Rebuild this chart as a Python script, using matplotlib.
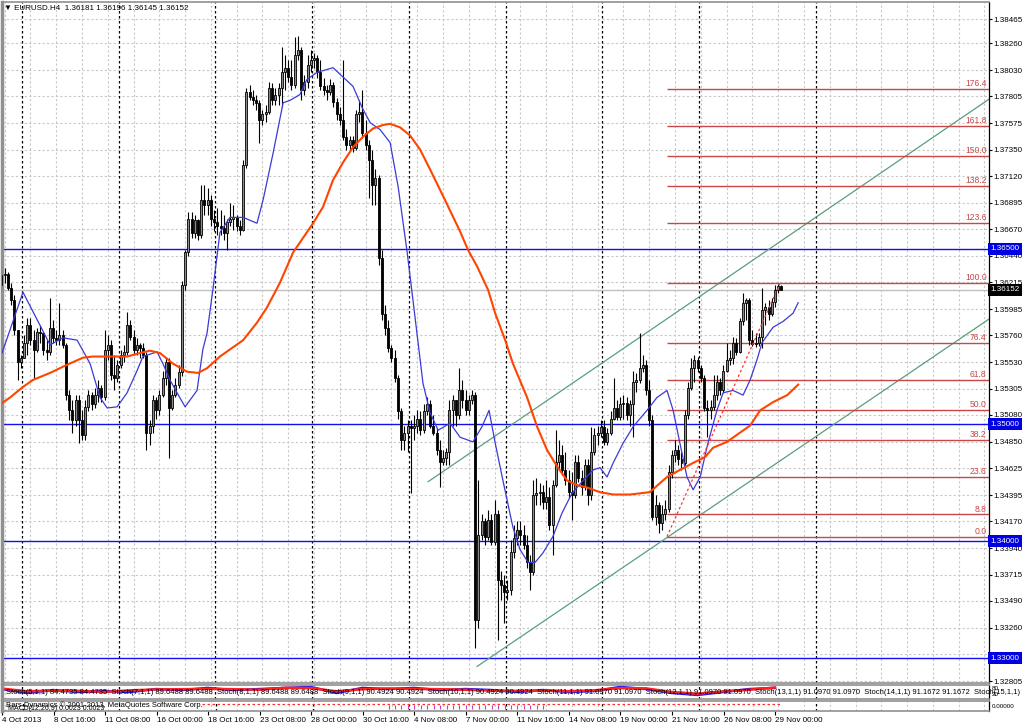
import numpy as np
import matplotlib
matplotlib.use("Agg")
import matplotlib.pyplot as plt

plt.rcParams['font.family'] = ['Liberation Sans', 'DejaVu Sans']

# ---- EURUSD H4, 4 Oct - 29 Nov 2013 ----
title_text = "EURUSD.H4  1.36181 1.36196 1.36145 1.36152"
first_open = 1.3619
closes = [
    1.3628, 1.3629, 1.3617, 1.3606, 1.3581, 1.3553, 1.3557, 1.3570, 1.3585, 1.3572,
    1.3564, 1.3579, 1.3578, 1.3564, 1.3562, 1.3582, 1.3574, 1.3572, 1.3576, 1.3568,
    1.3525, 1.3512, 1.3504, 1.3521, 1.3504, 1.3491, 1.3515, 1.3525, 1.3517, 1.3525,
    1.3531, 1.3523, 1.3564, 1.3568, 1.3542, 1.3540, 1.3551, 1.3559, 1.3562, 1.3585,
    1.3575, 1.3564, 1.3568, 1.3565, 1.3559, 1.3493, 1.3499, 1.3521, 1.3512, 1.3525,
    1.3540, 1.3553, 1.3514, 1.3525, 1.3534, 1.3545, 1.3619, 1.3647, 1.3676, 1.3664,
    1.3675, 1.3662, 1.3692, 1.3688, 1.3692, 1.3676, 1.3673, 1.3670, 1.3668, 1.3664,
    1.3673, 1.3676, 1.3677, 1.3670, 1.3666, 1.3722, 1.3784, 1.3780, 1.3777, 1.3775,
    1.3760, 1.3765, 1.3767, 1.3788, 1.3777, 1.3782, 1.3788, 1.3801, 1.3805, 1.3797,
    1.3790, 1.3816, 1.3820, 1.3786, 1.3793, 1.3807, 1.3812, 1.3813, 1.3801, 1.3789,
    1.3786, 1.3784, 1.3790, 1.3776, 1.3765, 1.3760, 1.3746, 1.3739, 1.3743, 1.3736,
    1.3765, 1.3767, 1.3749, 1.3739, 1.3726, 1.3705, 1.3711, 1.3642, 1.3594, 1.3582,
    1.3565, 1.3557, 1.3540, 1.3511, 1.3487, 1.3493, 1.3499, 1.3497, 1.3499, 1.3505,
    1.3495, 1.3511, 1.3517, 1.3499, 1.3493, 1.3478, 1.3468, 1.3471, 1.3476, 1.3512,
    1.3521, 1.3508, 1.3529, 1.3521, 1.3512, 1.3521, 1.3525, 1.3333, 1.3405, 1.3417,
    1.3404, 1.3418, 1.3399, 1.3423, 1.3367, 1.3363, 1.3357, 1.3358, 1.3391, 1.3403,
    1.3410, 1.3405, 1.3397, 1.3382, 1.3374, 1.3440, 1.3441, 1.3442, 1.3434, 1.3438,
    1.3414, 1.3448, 1.3468, 1.3474, 1.3461, 1.3452, 1.3442, 1.3440, 1.3468, 1.3454,
    1.3446, 1.3465, 1.3440, 1.3476, 1.3491, 1.3493, 1.3498, 1.3485, 1.3493, 1.3505,
    1.3514, 1.3506, 1.3517, 1.3518, 1.3508, 1.3517, 1.3536, 1.3538, 1.3548, 1.3551,
    1.3529, 1.3504, 1.3421, 1.3431, 1.3416, 1.3423, 1.3428, 1.3459, 1.3474, 1.3478,
    1.3470, 1.3467, 1.3508, 1.3531, 1.3548, 1.3555, 1.3548, 1.3540, 1.3514, 1.3512,
    1.3515, 1.3525, 1.3536, 1.3529, 1.3546, 1.3555, 1.3557, 1.3570, 1.3562, 1.3588,
    1.3604, 1.3606, 1.3572, 1.3569, 1.3570, 1.3575, 1.3598, 1.3600, 1.3594, 1.3605,
    1.3615, 1.36181, 1.36152,
]
highs = [
    1.3632, 1.3634, 1.3630, 1.3621, 1.3611, 1.3581, 1.3559, 1.3576, 1.3591, 1.3591,
    1.3581, 1.3582, 1.3585, 1.3579, 1.3572, 1.3608, 1.3589, 1.3581, 1.3604, 1.3581,
    1.3570, 1.3529, 1.3521, 1.3525, 1.3525, 1.3512, 1.3521, 1.3529, 1.3528, 1.3531,
    1.3538, 1.3534, 1.3581, 1.3576, 1.3572, 1.3559, 1.3555, 1.3564, 1.3568, 1.3596,
    1.3589, 1.3581, 1.3574, 1.3570, 1.3570, 1.3562, 1.3504, 1.3525, 1.3523, 1.3529,
    1.3546, 1.3558, 1.3557, 1.3529, 1.3540, 1.3551, 1.3623, 1.3649, 1.3682, 1.3682,
    1.3679, 1.3676, 1.3705, 1.3705, 1.3702, 1.3696, 1.3683, 1.3685, 1.3683, 1.3679,
    1.3676, 1.3689, 1.3688, 1.3679, 1.3675, 1.3726, 1.3788, 1.3790, 1.3786, 1.3782,
    1.3777, 1.3769, 1.3773, 1.3793, 1.3792, 1.3788, 1.3792, 1.3823, 1.3816, 1.3812,
    1.3812, 1.3831, 1.3832, 1.3823, 1.3799, 1.3816, 1.3820, 1.3818, 1.3816, 1.3812,
    1.3796, 1.3790, 1.3795, 1.3793, 1.3779, 1.3771, 1.3812, 1.3753, 1.3747, 1.3747,
    1.3769, 1.3777, 1.3786, 1.3760, 1.3743, 1.3735, 1.3718, 1.3713, 1.3649, 1.3602,
    1.3589, 1.3568, 1.3564, 1.3542, 1.3514, 1.3499, 1.3504, 1.3504, 1.3508, 1.3512,
    1.3511, 1.3517, 1.3523, 1.3521, 1.3508, 1.3497, 1.3487, 1.3478, 1.3480, 1.3521,
    1.3525, 1.3521, 1.3548, 1.3538, 1.3529, 1.3525, 1.3529, 1.3528, 1.3452, 1.3423,
    1.3420, 1.3427, 1.3423, 1.3435, 1.3427, 1.3375, 1.3371, 1.3367, 1.3401, 1.3414,
    1.3417, 1.3417, 1.3414, 1.3405, 1.3388, 1.3452, 1.3454, 1.3450, 1.3448, 1.3452,
    1.3446, 1.3452, 1.3495, 1.3487, 1.3482, 1.3476, 1.3461, 1.3459, 1.3474, 1.3474,
    1.3461, 1.3470, 1.3470, 1.3498, 1.3497, 1.3499, 1.3504, 1.3504, 1.3497, 1.3511,
    1.3540, 1.3521, 1.3523, 1.3525, 1.3523, 1.3521, 1.3546, 1.3544, 1.3578, 1.3559,
    1.3555, 1.3538, 1.3508, 1.3440, 1.3434, 1.3431, 1.3435, 1.3465, 1.3478, 1.3487,
    1.3482, 1.3476, 1.3512, 1.3536, 1.3557, 1.3559, 1.3558, 1.3551, 1.3542, 1.3521,
    1.3521, 1.3542, 1.3542, 1.3540, 1.3551, 1.3570, 1.3564, 1.3575, 1.3574, 1.3591,
    1.3612, 1.3608, 1.3608, 1.3581, 1.3578, 1.3578, 1.3617, 1.3604, 1.3606, 1.3608,
    1.3619, 1.3620, 1.36196,
]
lows = [
    1.3615, 1.3621, 1.3615, 1.3602, 1.3576, 1.3538, 1.3548, 1.3557, 1.3559, 1.3568,
    1.3540, 1.3562, 1.3570, 1.3559, 1.3555, 1.3559, 1.3570, 1.3568, 1.3568, 1.3565,
    1.3521, 1.3504, 1.3493, 1.3499, 1.3484, 1.3487, 1.3487, 1.3511, 1.3512, 1.3514,
    1.3519, 1.3519, 1.3521, 1.3555, 1.3538, 1.3529, 1.3536, 1.3548, 1.3553, 1.3559,
    1.3572, 1.3559, 1.3559, 1.3557, 1.3557, 1.3478, 1.3482, 1.3493, 1.3505, 1.3508,
    1.3523, 1.3534, 1.3471, 1.3512, 1.3523, 1.3531, 1.3541, 1.3615, 1.3644, 1.3659,
    1.3659, 1.3658, 1.3659, 1.3679, 1.3679, 1.3670, 1.3665, 1.3662, 1.3662, 1.3658,
    1.3649, 1.3670, 1.3666, 1.3665, 1.3662, 1.3665, 1.3719, 1.3777, 1.3773, 1.3769,
    1.3741, 1.3756, 1.3759, 1.3765, 1.3773, 1.3773, 1.3773, 1.3771, 1.3786, 1.3793,
    1.3786, 1.3788, 1.3812, 1.3777, 1.3782, 1.3788, 1.3801, 1.3805, 1.3796, 1.3786,
    1.3782, 1.3777, 1.3782, 1.3771, 1.3760, 1.3756, 1.3743, 1.3735, 1.3735, 1.3733,
    1.3735, 1.3759, 1.3745, 1.3735, 1.3694, 1.3688, 1.3688, 1.3636, 1.3589, 1.3576,
    1.3562, 1.3553, 1.3536, 1.3505, 1.3478, 1.3478, 1.3476, 1.3441, 1.3487, 1.3493,
    1.3491, 1.3493, 1.3508, 1.3497, 1.3491, 1.3474, 1.3446, 1.3465, 1.3465, 1.3465,
    1.3499, 1.3499, 1.3505, 1.3514, 1.3508, 1.3508, 1.3517, 1.3309, 1.3326, 1.3401,
    1.3397, 1.3401, 1.3397, 1.3397, 1.3316, 1.3350, 1.3330, 1.3350, 1.3354, 1.3386,
    1.3397, 1.3397, 1.3393, 1.3377, 1.3358, 1.3371, 1.3431, 1.3431, 1.3428, 1.3428,
    1.3410, 1.3388, 1.3446, 1.3461, 1.3457, 1.3448, 1.3437, 1.3418, 1.3437, 1.3451,
    1.3440, 1.3444, 1.3431, 1.3435, 1.3474, 1.3482, 1.3489, 1.3482, 1.3482, 1.3491,
    1.3504, 1.3504, 1.3504, 1.3505, 1.3504, 1.3499, 1.3489, 1.3528, 1.3535, 1.3545,
    1.3525, 1.3499, 1.3418, 1.3414, 1.3407, 1.3410, 1.3418, 1.3425, 1.3454, 1.3468,
    1.3465, 1.3461, 1.3465, 1.3505, 1.3529, 1.3536, 1.3545, 1.3536, 1.3511, 1.3489,
    1.3505, 1.3512, 1.3521, 1.3525, 1.3527, 1.3545, 1.3551, 1.3552, 1.3559, 1.3561,
    1.3585, 1.3589, 1.3568, 1.3567, 1.3566, 1.3567, 1.3565, 1.3585, 1.3589, 1.3593,
    1.3600, 1.3612, 1.36145,
]

date_labels = ["4 Oct 2013", "8 Oct 16:00", "11 Oct 08:00", "16 Oct 00:00", "18 Oct 16:00",
               "23 Oct 08:00", "28 Oct 00:00", "30 Oct 16:00", "4 Nov 08:00", "7 Nov 00:00",
               "11 Nov 16:00", "14 Nov 08:00", "19 Nov 00:00", "21 Nov 16:00", "26 Nov 08:00",
               "29 Nov 00:00"]
date_label_bars = list(range(0, 241, 16))

price_ticks = [1.38465, 1.38260, 1.38030, 1.37805, 1.37575, 1.37350, 1.37120, 1.36895,
               1.36670, 1.36440, 1.36215, 1.35985, 1.35760, 1.35530, 1.35305, 1.35080,
               1.34850, 1.34625, 1.34395, 1.34170, 1.33940, 1.33715, 1.33490, 1.33260,
               1.33035, 1.32805]
sr_levels = [1.3650, 1.3500, 1.3400, 1.3300]
bid_price = 1.36152

# moving averages (shifted forward, so they run past the last bar)
ma_fast_x = [0.2, 6.7, 15.1, 19.1, 23.5, 27.5, 30.6, 32.8, 35.9, 39.0, 42.1, 43.9, 48.3, 50.1,
             52.3, 54.5, 57.0, 60.7, 62.5, 63.8, 65.7, 67.8, 70.9, 75.0, 79.3, 81.2, 84.3, 87.4,
             89.5, 92.6, 94.8, 97.9, 102.9, 106.0, 109.1, 111.9, 114.4, 117.5, 120.6, 123.1,
             125.8, 127.7, 130.8, 133.0, 135.5, 139.2, 142.3, 146.3, 149.1, 151.3, 153.2, 155.6,
             158.7, 160.9, 163.4, 165.6, 168.0, 171.1, 173.9, 177.0, 180.5, 183.6, 185.7, 187.9,
             189.8, 192.9, 196.0, 200.3, 203.4, 206.5, 208.4, 210.5, 212.7, 214.6, 216.8, 219.2,
             222.0, 223.9, 227.0, 230.1, 232.3, 234.4, 236.0, 239.4, 242.5, 245.6, 247.2]
ma_fast_y = [1.3561, 1.3613, 1.3568, 1.3574, 1.3572, 1.3552, 1.3523, 1.3514, 1.3515, 1.3527,
             1.3546, 1.3558, 1.3562, 1.3552, 1.3538, 1.3527, 1.3515, 1.3529, 1.3564, 1.3578,
             1.3617, 1.3664, 1.3677, 1.3677, 1.3672, 1.3692, 1.3732, 1.3775, 1.3777, 1.3782,
             1.3795, 1.3801, 1.3805, 1.3797, 1.3789, 1.3771, 1.3758, 1.3752, 1.3741, 1.3703,
             1.3649, 1.3606, 1.3535, 1.3510, 1.3495, 1.3501, 1.3489, 1.3485, 1.3498, 1.3512,
             1.3484, 1.3452, 1.3412, 1.3393, 1.3382, 1.3382, 1.3390, 1.3404, 1.3424, 1.3441,
             1.3452, 1.3461, 1.3463, 1.3455, 1.3467, 1.3484, 1.3498, 1.3512, 1.3523, 1.3529,
             1.3512, 1.3484, 1.3455, 1.3444, 1.3455, 1.3484, 1.3512, 1.3527, 1.3529, 1.3525,
             1.3538, 1.3555, 1.3570, 1.3583, 1.3588, 1.3595, 1.3604]
ma_slow_x = [-0.4, 2.7, 6.7, 9.8, 15.1, 20.4, 25.3, 28.4, 32.8, 39.0, 43.0, 46.1, 49.2, 53.2,
             57.6, 61.0, 63.8, 67.8, 71.9, 75.0, 79.3, 82.4, 86.4, 90.5, 96.7, 99.8, 102.9,
             106.0, 109.1, 112.2, 115.3, 118.4, 120.6, 123.7, 126.8, 129.9, 133.0, 137.6, 142.3,
             144.8, 147.6, 151.0, 153.2, 156.3, 158.7, 163.1, 166.2, 169.3, 172.4, 175.5, 178.6,
             181.7, 185.7, 189.8, 195.0, 201.2, 202.8, 206.5, 210.5, 214.6, 218.3, 220.8, 225.1,
             229.2, 232.3, 235.4, 239.4, 243.8, 247.2]
ma_slow_y = [1.3517, 1.3523, 1.3532, 1.3538, 1.3544, 1.3551, 1.3557, 1.3558, 1.3558, 1.3558,
             1.3561, 1.3563, 1.3561, 1.3552, 1.3545, 1.3544, 1.3548, 1.3558, 1.3566, 1.3572,
             1.3587, 1.3600, 1.3621, 1.3647, 1.3672, 1.3686, 1.3709, 1.3724, 1.3737, 1.3746,
             1.3753, 1.3756, 1.3757, 1.3754, 1.3747, 1.3735, 1.3718, 1.3692, 1.3665, 1.3649,
             1.3635, 1.3615, 1.3595, 1.3572, 1.3552, 1.3523, 1.3498, 1.3478, 1.3464, 1.3452,
             1.3448, 1.3446, 1.3442, 1.3440, 1.3440, 1.3442, 1.3446, 1.3455, 1.3461, 1.3467,
             1.3472, 1.3480, 1.3485, 1.3493, 1.3499, 1.3512, 1.3519, 1.3525, 1.3534]

# fibonacci expansion anchors and levels
fib_bars = [206.5, 241.6]
fib_prices = [1.3404, 1.3621]
fib_levels = [0.0, 8.8, 23.6, 38.2, 50.0, 61.8, 76.4, 100.0, 123.6, 138.2, 150.0, 161.8, 176.4]

# equidistant channel (two anchor points per line)
chan_upper_x = [132.4, 300.5]
chan_upper_y = [1.3451, 1.3767]
chan_lower_x = [147.6, 300.5]
chan_lower_y = [1.3293, 1.3579]

week_sep_bars = [6.4, 36.4, 66.4, 96.5, 126.5, 156.5, 186.4, 216.5, 252.6]

stoch_x = list(range(0, 241, 8))
stoch_blue = [71, 43, 64, 50, 57, 50, 71, 64, 79, 64, 71, 79, 86, 43, 79, 71, 79, 64, 71, 64,
              50, 64, 50, 57, 86, 71, 43, 29, 50, 71, 79]
stoch_red = [75, 55, 60, 58, 50, 62, 68, 70, 72, 70, 66, 80, 78, 55, 70, 75, 72, 70, 66, 60,
             58, 60, 56, 62, 78, 76, 50, 38, 55, 66, 82]
stoch_text = ("Stoch(5,1,1) 84.4735 84.4735  Stoch(7,1,1) 89.6488 89.6488  Stoch(8,1,1) 89.6488 89.6488  "
              "Stoch(9,1,1) 90.4924 90.4924  Stoch(10,1,1) 90.4924 90.4924  Stoch(11,1,1) 91.0970 91.0970  "
              "Stoch(12,1,1) 91.0970 91.0970  Stoch(13,1,1) 91.0970 91.0970  "
              "Stoch(14,1,1) 91.1672 91.1672  Stoch(15,1,1)")
bd_red_bars = list(range(62, 243, 2))
bd_mag_bars = list(range(120, 170, 2))

# ---- figure ----
W, H = 1024, 725
FS = 5.8
fig = plt.figure(figsize=(W / 100, H / 100), dpi=100)


def box(x0, y0, x1, y1):
    return [x0 / W, 1 - y1 / H, (x1 - x0) / W, (y1 - y0) / H]


ax = fig.add_axes(box(2, 2, 989, 683))
st = fig.add_axes(box(2, 685, 989, 699))
bd = fig.add_axes(box(2, 701, 989, 711))
X0, X1 = 0.19, 306.4
grid_c = '#c8c8c8'
for a in (ax, st, bd):
    a.set_xlim(X0, X1)
    a.set_facecolor('white')
    a.vlines(np.arange(1, 310, 8), 0, 1, transform=a.get_xaxis_transform(),
             colors=grid_c, linestyles=(0, (2, 2)), lw=0.8, zorder=0)
    a.vlines(week_sep_bars, 0, 1, transform=a.get_xaxis_transform(),
             colors='black', linestyles=(0, (2, 2)), lw=0.9, zorder=0.5)
    for s in a.spines.values():
        s.set_color('#909090')
        s.set_linewidth(1.2)
    a.spines['left'].set_linewidth(2.5)
    a.spines['right'].set_color('black')
    a.spines['right'].set_linewidth(0.9)
    a.set_yticks([])

ax.set_ylim(1.32788, 1.38612)
ax.hlines(price_ticks, X0, X1, colors=grid_c, linestyles=(0, (2, 2)), lw=0.8, zorder=0)

# candles
c = np.array(closes)
hi = np.array(highs)
lo = np.array(lows)
o = np.concatenate([[first_open], c[:-1]])
idx = np.arange(len(c))
ax.vlines(idx, lo, hi, colors='black', lw=0.8, zorder=3)
up = c >= o
body_lo = np.minimum(o, c)
body_h = np.maximum(np.abs(c - o), 0.00003)
ax.bar(idx, body_h, bottom=body_lo, width=0.62, color=np.where(up, '#8a8a8a', 'black'),
       edgecolor='black', linewidth=0.6, zorder=4)

# horizontal levels
ax.hlines(sr_levels, X0, X1, colors='#1010ee', lw=1.0, zorder=2)
ax.axhline(bid_price, color='#c0c0c0', lw=1.0, zorder=1)

# moving averages
ax.plot(ma_fast_x, ma_fast_y, color='#3a3ad8', lw=0.9, zorder=5)
ax.plot(ma_slow_x, ma_slow_y, color='#ff4500', lw=1.5, zorder=5)

# channel
for xs, ys in ((chan_upper_x, chan_upper_y), (chan_lower_x, chan_lower_y)):
    slope = (ys[1] - ys[0]) / (xs[1] - xs[0])
    ax.plot([xs[0], X1], [ys[0], ys[0] + slope * (X1 - xs[0])], color='#5a9e7c', lw=0.9, zorder=2)

# fibonacci
fib_c = '#c84848'
rng = fib_prices[1] - fib_prices[0]
for lvl in fib_levels:
    p = fib_prices[0] + rng * lvl / 100.0
    ax.hlines(p, fib_bars[0], X1, colors=fib_c, lw=1.0, zorder=2)
    ax.text(X1 - 0.7, p + 0.00006, f"{lvl:.1f}", ha='right', va='bottom', fontsize=FS + 0.4,
            color=fib_c, zorder=6)
ax.plot(fib_bars, fib_prices, color='#ff3030', ls=(0, (2, 2)), lw=0.9, zorder=6)

# right price scale
ax.yaxis.tick_right()
ax.set_yticks(price_ticks)
ax.set_yticklabels([f"{p:.5f}" for p in price_ticks])
ax.tick_params(axis='y', direction='out', length=2.5, width=0.8, pad=1, labelsize=FS)
ax.set_xticks([])
ytr = ax.get_yaxis_transform()
for p in sr_levels:
    ax.text(1.0015, p, f"{p:.5f}", transform=ytr, ha='left', va='center', fontsize=FS,
            color='white', clip_on=False, zorder=10,
            bbox=dict(boxstyle='square,pad=0.3', fc='#0000e0', ec='none'))
ax.text(1.0015, bid_price, f"{bid_price:.5f}", transform=ytr, ha='left', va='center',
        fontsize=FS, color='white', clip_on=False, zorder=10,
        bbox=dict(boxstyle='square,pad=0.3', fc='black', ec='none'))

fig.text(4 / W, 1 - 8 / H, "\u25bc " + title_text, fontsize=FS, va='center', ha='left')

# stochastic subwindow
st.set_ylim(0, 100)
st.set_xticks([])
st.plot(stoch_x, stoch_blue, color='#1a1aff', lw=1.8)
st.plot(stoch_x, stoch_red, color='#ff2020', lw=1.8)
st.text(0.004, 0.45, stoch_text, transform=st.transAxes, fontsize=5.5, va='center', ha='left',
        clip_on=False)
st.text(1.003, 0.75, "80", transform=st.transAxes, fontsize=4.5, va='center', clip_on=False)
st.text(1.003, 0.3, "20", transform=st.transAxes, fontsize=4.5, va='center', clip_on=False)

# bottom subwindow
bd.set_ylim(0, 1)
bd.plot(bd_red_bars, [0.75] * len(bd_red_bars), color='#ff3030', ls=(0, (2, 2)), lw=0.9)
bd.vlines(bd_mag_bars, 0.25, 0.6, colors='#c040c0', lw=0.8)
bd.text(0.004, 0.62, "Bars Dynamics \u00a9 2001-2013, MetaQuotes Software Corp.",
        transform=bd.transAxes, fontsize=5.5, va='center', ha='left')
bd.text(0.006, 0.22, "MACD(12,26,9) 0.0023 0.0023", transform=bd.transAxes, fontsize=5,
        va='center', ha='left')
bd.text(1.003, 0.5, "0.00000", transform=bd.transAxes, fontsize=4.5, va='center', clip_on=False)
bd.set_xticks(date_label_bars)
bd.set_xticklabels(date_labels, ha='left')
bd.tick_params(axis='x', direction='out', length=3, width=0.8, pad=1.5, labelsize=FS)

fig.savefig("out.png", dpi=100)
